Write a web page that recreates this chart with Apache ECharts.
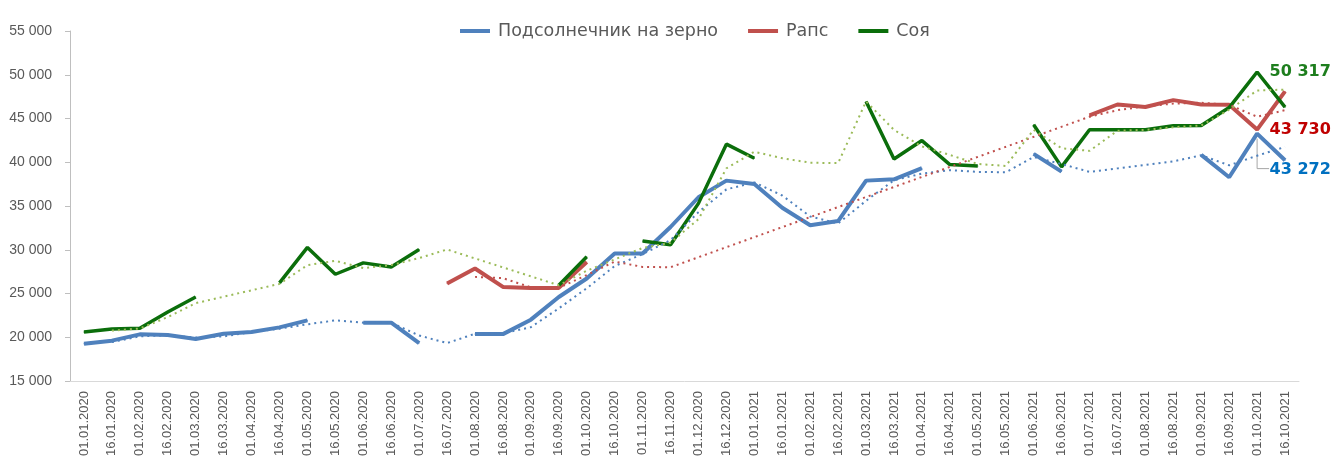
<!DOCTYPE html>
<html>
<head>
<meta charset="utf-8">
<script src="https://cdn.jsdelivr.net/npm/echarts@6/dist/echarts.min.js"></script>
<style>
  html, body { margin: 0; padding: 0; background: #fff; }
  #chart { width: 1335px; height: 466px; }
</style>
</head>
<body>
<div id="chart"></div>
<script>
// даты (каждые полмесяца)
var categories = [
  '01.01.2020','16.01.2020','01.02.2020','16.02.2020','01.03.2020','16.03.2020',
  '01.04.2020','16.04.2020','01.05.2020','16.05.2020','01.06.2020','16.06.2020',
  '01.07.2020','16.07.2020','01.08.2020','16.08.2020','01.09.2020','16.09.2020',
  '01.10.2020','16.10.2020','01.11.2020','16.11.2020','01.12.2020','16.12.2020',
  '01.01.2021','16.01.2021','01.02.2021','16.02.2021','01.03.2021','16.03.2021',
  '01.04.2021','16.04.2021','01.05.2021','16.05.2021','01.06.2021','16.06.2021',
  '01.07.2021','16.07.2021','01.08.2021','16.08.2021','01.09.2021','16.09.2021',
  '01.10.2021','16.10.2021'
];

var sunflower = [
  19260, 19610, 20330, 20250, 19790, 20410, 20590, 21130, 21930, null, 21670, 21670,
  19330, null, 20360, 20360, 22010, 24600, 26710, 29580, 29580, 32600, 36000, 37900,
  37520, 34800, 32800, 33280, 37900, 38050, 39320, null, null, null, 40960, 38930,
  null, null, null, null, 40840, 38290, 43272, 40230
];
var rapeseed = [
  null, null, null, null, null, null, null, null, null, null, null, null,
  null, 26140, 27860, 25750, 25640, 25640, 28610, null, null, null, null, null,
  null, null, null, null, null, null, null, null, null, null, null, null,
  45370, 46600, 46310, 47100, 46600, 46580, 43730, 48096
];
var soy = [
  20590, 20940, 21020, 22880, 24600, null, null, 26210, 30270, 27200, 28500, 28040,
  30030, null, null, null, null, 25940, 29190, null, 30990, 30570, 35300, 42070,
  40460, null, null, null, 46950, 40380, 42480, 39730, 39580, null, 44280, 39470,
  43710, 43710, 43710, 44170, 44200, 46250, 50317, 46300
];

// пунктирные линии тренда (скользящее среднее)
var sunflowerTrend = [
  null, 19450, 20100, 20220, 19960, 20100, 20590, 20980, 21480, 21930, 21670, 21670,
  20200, 19330, 20400, 20450, 21150, 23300, 25600, 28140, 29500, 31100, 34300, 36900,
  37700, 36200, 33800, 33000, 35600, 37950, 38700, 39100, 38900, 38850, 40600, 39800,
  38900, 39300, 39700, 40100, 40800, 39650, 40750, 41750
];
var rapeseedTrend = [
  null, null, null, null, null, null, null, null, null, null, null, null,
  null, null, 26900, 26750, 25700, 25640, 27100, 28650, 28040, 28000, null, null,
  null, null, null, null, null, null, null, null, null, null, null, null,
  45200, 45950, 46400, 46700, 46800, 46570, 45200, 45950
];
var soyTrend = [
  null, 20760, 21000, 22300, 23900, null, null, 26100, 28240, 28730, 27900, 28250,
  29050, 30030, null, null, null, 25940, 27600, null, 30200, 30800, 33500, 39300,
  41200, 40460, 39950, 39900, 46950, 43700, 41800, 40840, 39800, 39580, 43700, 41600,
  41300, 43600, 43700, 44000, 44200, 46000, 48200, 48300
];

var labelIdx = 42;

function fmt(v) {
  return String(Math.round(v)).replace(/\B(?=(\d{3})+(?!\d))/g, ' ');
}

function withLabel(arr, color, offsetY) {
  return arr.map(function (v, i) {
    if (i !== labelIdx) return v;
    return {
      value: v,
      label: {
        show: true,
        position: 'right',
        distance: 12,
        offset: [0, offsetY || 0],
        color: color,
        fontFamily: 'DejaVu Sans',
        fontWeight: 'bold',
        fontSize: 16,
        formatter: function (p) { return fmt(p.value); }
      }
    };
  });
}

var blueC = '#4f81bd', redC = '#c0504d', greenC = '#0b6e0b';

var myChart = echarts.init(document.getElementById('chart'));
var option = {
  animation: false,
  grid: { left: 70, right: 36, top: 31, bottom: 85 },
  legend: {
    data: ['Подсолнечник на зерно', 'Рапс', 'Соя'],
    top: 17,
    left: 455,
    icon: 'rect',
    itemWidth: 30,
    itemHeight: 4,
    itemGap: 30,
    textStyle: {
      color: '#595959',
      fontSize: 17.5,
      fontFamily: 'DejaVu Sans',
      padding: [0, 0, 0, 3]
    }
  },
  xAxis: {
    type: 'category',
    data: categories,
    boundaryGap: true,
    axisLine: { lineStyle: { color: '#d9d9d9' } },
    axisTick: { show: false },
    axisLabel: {
      interval: 0,
      rotate: 90,
      margin: 10,
      color: '#595959',
      fontSize: 13,
      fontFamily: 'Liberation Sans'
    }
  },
  yAxis: {
    type: 'value',
    min: 15000,
    max: 55000,
    interval: 5000,
    splitLine: { show: false },
    axisLine: { show: true, lineStyle: { color: '#bfbfbf' } },
    axisTick: { show: true, length: 5, lineStyle: { color: '#bfbfbf' } },
    axisLabel: {
      color: '#595959',
      fontSize: 14,
      fontFamily: 'Liberation Sans',
      margin: 18,
      formatter: fmt
    }
  },
  series: [
    {
      name: 'Подсолнечник на зерно',
      type: 'line',
      data: withLabel(sunflower, '#0070c0', 36),
      symbol: 'circle', symbolSize: 1,
      itemStyle: { color: blueC },
      lineStyle: { color: blueC, width: 4 },
      z: 3
    },
    {
      name: 'Рапс',
      type: 'line',
      data: withLabel(rapeseed, '#c00000'),
      symbol: 'circle', symbolSize: 1,
      itemStyle: { color: redC },
      lineStyle: { color: redC, width: 4 },
      z: 3
    },
    {
      name: 'Соя',
      type: 'line',
      data: withLabel(soy, '#1e7e1e'),
      symbol: 'circle', symbolSize: 1,
      itemStyle: { color: greenC },
      lineStyle: { color: greenC, width: 3.5 },
      z: 4
    },
    {
      name: 'trend-sunflower',
      type: 'line',
      data: sunflowerTrend,
      connectNulls: true,
      showSymbol: false,
      lineStyle: { color: blueC, width: 2, type: [2, 4] },
      z: 5
    },
    {
      name: 'trend-rapeseed',
      type: 'line',
      data: rapeseedTrend,
      connectNulls: true,
      showSymbol: false,
      lineStyle: { color: redC, width: 2, type: [2, 4] },
      z: 5
    },
    {
      name: 'trend-soy',
      type: 'line',
      data: soyTrend,
      connectNulls: true,
      showSymbol: false,
      lineStyle: { color: '#9bbb59', width: 2, type: [2, 4] },
      z: 5
    },
    {
      // выноска к подписи подсолнечника
      name: 'leader',
      type: 'custom',
      data: [[labelIdx, sunflower[labelIdx]]],
      renderItem: function (params, api) {
        var p = api.coord([api.value(0), api.value(1)]);
        return {
          type: 'polyline',
          shape: { points: [[p[0], p[1] + 5], [p[0], p[1] + 35], [p[0] + 12, p[1] + 35]] },
          style: { stroke: '#a6a6a6', fill: null, lineWidth: 1 }
        };
      },
      silent: true,
      z: 2
    }
  ]
};
myChart.setOption(option);
</script>
</body>
</html>
